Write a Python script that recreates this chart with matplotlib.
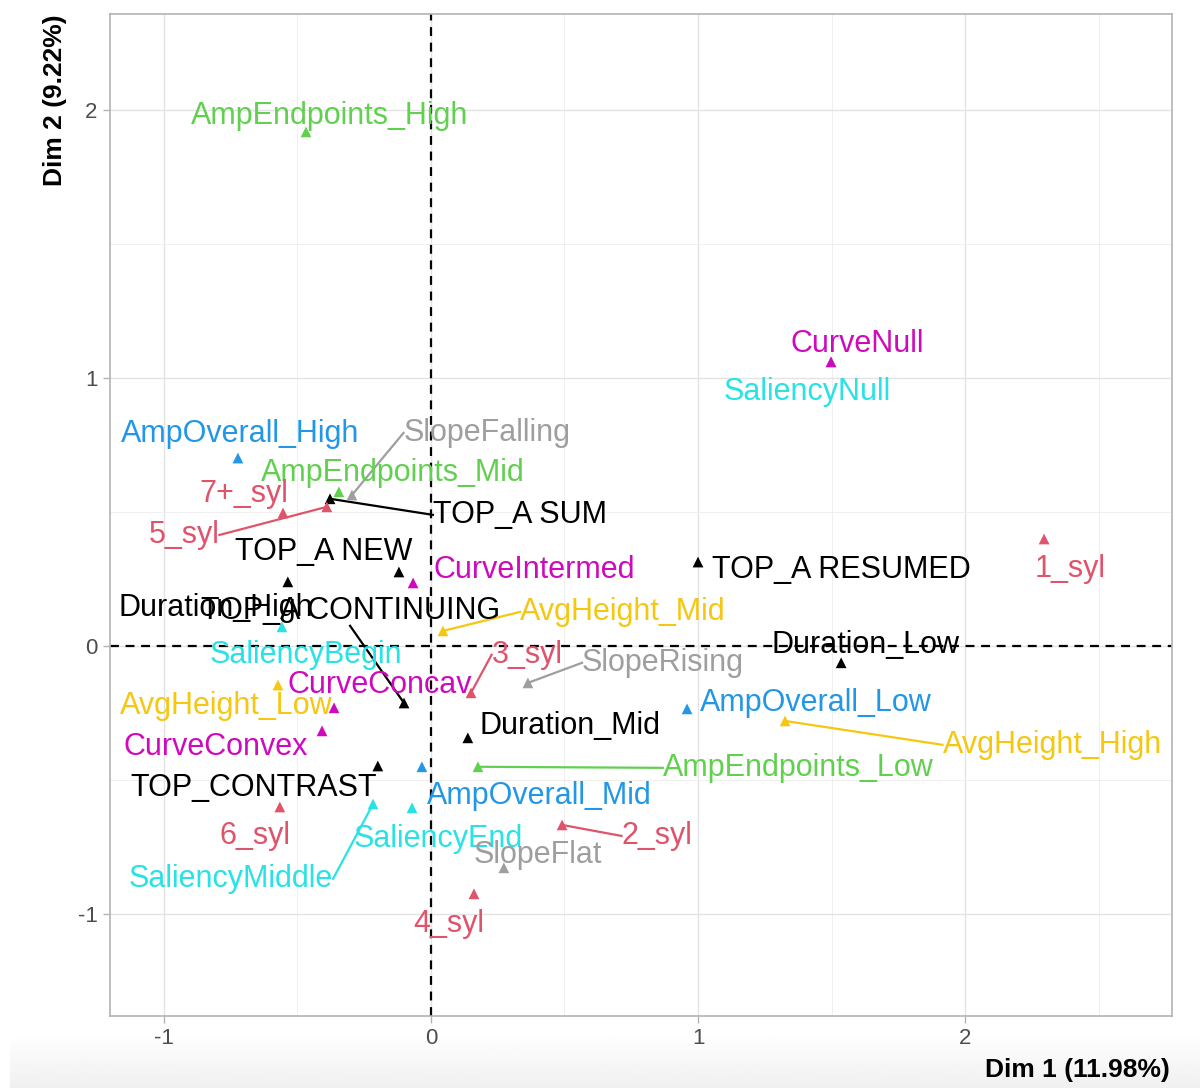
import numpy as np
import matplotlib
matplotlib.use("Agg")
import matplotlib.pyplot as plt

plt.rcParams["font.family"] = ["Liberation Sans", "DejaVu Sans"]

# MCA category coordinates (Dim 1, Dim 2)
labels = [
    "AmpEndpoints_High", "SaliencyNull", "CurveNull", "AmpOverall_High",
    "SlopeFalling", "AmpEndpoints_Mid", "TOP_A SUM", "5_syl", "7+_syl",
    "TOP_A NEW", "CurveIntermed", "Duration_High", "TOP_A CONTINUING",
    "SaliencyBegin", "AvgHeight_Mid", "3_syl", "SlopeRising",
    "TOP_A RESUMED", "1_syl", "Duration_Low", "AmpOverall_Low",
    "AvgHeight_High", "CurveConcav", "AvgHeight_Low", "CurveConvex",
    "Duration_Mid", "AmpEndpoints_Low", "AmpOverall_Mid", "TOP_CONTRAST",
    "SaliencyMiddle", "SaliencyEnd", "6_syl", "2_syl", "SlopeFlat", "4_syl",
]
dim1 = [
    -0.468, 1.498, 1.498, -0.723,
    -0.296, -0.345, -0.378, -0.390, -0.554,
    -0.120, -0.067, -0.536, -0.101,
    -0.558, 0.045, 0.150, 0.363,
    1.000, 2.296, 1.536, 0.959,
    1.326, -0.363, -0.573, -0.408,
    0.138, 0.176, -0.034, -0.199,
    -0.217, -0.071, -0.566, 0.491, 0.273, 0.161,
]
dim2 = [
    1.918, 1.060, 1.060, 0.701,
    0.563, 0.575, 0.549, 0.519, 0.496,
    0.276, 0.235, 0.239, -0.213,
    0.071, 0.056, -0.175, -0.138,
    0.313, 0.399, -0.063, -0.235,
    -0.280, -0.231, -0.146, -0.317,
    -0.343, -0.451, -0.451, -0.448,
    -0.590, -0.604, -0.601, -0.668, -0.828, -0.925,
]
groups = [
    "AmpEndpoints", "Saliency", "Curve", "AmpOverall",
    "Slope", "AmpEndpoints", "TOP", "Syl", "Syl",
    "TOP", "Curve", "TOP", "TOP",
    "Saliency", "AvgHeight", "Syl", "Slope",
    "TOP", "Syl", "TOP", "AmpOverall",
    "AvgHeight", "Curve", "AvgHeight", "Curve",
    "TOP", "AmpEndpoints", "AmpOverall", "TOP",
    "Saliency", "Saliency", "Syl", "Syl", "Slope", "Syl",
]

group_colors = {
    "TOP": "black", "Syl": "#DF536B", "AmpEndpoints": "#61D04F",
    "AmpOverall": "#2297E6", "Saliency": "#28E2E5", "Curve": "#CD0BBC",
    "AvgHeight": "#F5C710", "Slope": "#9E9E9E",
}

# repelled label positions (layout only)
label_pos = {
    "AmpEndpoints_High": (-0.378, 1.989), "CurveNull": (1.596, 1.138),
    "SaliencyNull": (1.408, 0.959), "AmpOverall_High": (-0.715, 0.802),
    "SlopeFalling": (0.210, 0.806), "AmpEndpoints_Mid": (-0.142, 0.657),
    "TOP_A SUM": (0.333, 0.500), "5_syl": (-0.925, 0.425),
    "7+_syl": (-0.700, 0.578), "TOP_A NEW": (-0.401, 0.362),
    "CurveIntermed": (0.386, 0.295), "Duration_High": (-0.805, 0.153),
    "TOP_A CONTINUING": (-0.303, 0.142), "SaliencyBegin": (-0.468, -0.022),
    "AvgHeight_Mid": (0.719, 0.138), "3_syl": (0.360, -0.022),
    "SlopeRising": (0.869, -0.052), "TOP_A RESUMED": (1.536, 0.295),
    "1_syl": (2.393, 0.299), "Duration_Low": (1.629, 0.015),
    "AmpOverall_Low": (1.442, -0.201), "AvgHeight_High": (2.326, -0.358),
    "CurveConcav": (-0.191, -0.134), "AvgHeight_Low": (-0.768, -0.213),
    "CurveConvex": (-0.805, -0.366), "Duration_Mid": (0.521, -0.287),
    "AmpEndpoints_Low": (1.375, -0.444), "AmpOverall_Mid": (0.404, -0.549),
    "TOP_CONTRAST": (-0.663, -0.519), "SaliencyMiddle": (-0.749, -0.858),
    "SaliencyEnd": (0.026, -0.709), "6_syl": (-0.659, -0.698),
    "2_syl": (0.846, -0.698), "SlopeFlat": (0.401, -0.769),
    "4_syl": (0.067, -1.026),
}
with_segment = {"SlopeFalling", "TOP_A SUM", "5_syl", "TOP_A CONTINUING",
                "AvgHeight_Mid", "3_syl", "SlopeRising", "AvgHeight_High",
                "AmpEndpoints_Low", "SaliencyMiddle", "2_syl"}

fig = plt.figure(figsize=(12, 10.88), dpi=100)

# faint screenshot shadow at the bottom
bg = fig.add_axes([10 / 1200, 0, 1 - 10 / 1200, 55 / 1088], zorder=-5)
grad = np.linspace(0.94, 1.0, 50).reshape(-1, 1)
bg.imshow(grad, aspect="auto", cmap="gray", vmin=0, vmax=1,
          origin="lower", extent=[0, 1, 0, 1])
bg.axis("off")

ax = fig.add_axes([110 / 1200, 1 - 1016 / 1088, 1062 / 1200, 1002 / 1088])
ax.set_xlim(-1.202, 2.775)
ax.set_ylim(-1.381, 2.358)

ax.set_xticks([-1, 0, 1, 2])
ax.set_yticks([-1, 0, 1, 2])
ax.set_xticks([-0.5, 0.5, 1.5, 2.5], minor=True)
ax.set_yticks([-0.5, 0.5, 1.5], minor=True)
ax.grid(True, which="major", color="#E3E3E3", lw=1.0)
ax.grid(True, which="minor", color="#EFEFEF", lw=0.7)
ax.set_axisbelow(True)
for sp in ax.spines.values():
    sp.set_color("#B3B3B3")
    sp.set_linewidth(1.2)
ax.tick_params(which="major", color="#B3B3B3", length=5, width=1,
               labelsize=16, labelcolor="#4D4D4D", pad=4)
ax.tick_params(which="minor", length=0)
ax.set_xticklabels(["-1", "0", "1", "2"])
ax.set_yticklabels(["-1", "0", "1", "2"])

ax.axhline(0, color="black", ls=(0, (4, 3)), lw=1.6, zorder=1)
ax.axvline(0, color="black", ls=(0, (4, 3)), lw=1.6, zorder=1)

texts = []
for lab, x, y, g in zip(labels, dim1, dim2, groups):
    c = group_colors[g]
    ax.scatter(x, y, marker="^", s=60, color=c, edgecolors="none", zorder=3)
    tx, ty = label_pos[lab]
    t = ax.text(tx, ty - 0.011, lab, color=c, fontsize=22, ha="center",
                va="center", zorder=4)
    texts.append((lab, x, y, c, t))

# ggrepel-like segments: from the point to the closest edge midpoint of the label
fig.canvas.draw()
renderer = fig.canvas.get_renderer()
to_data = ax.transData.inverted()
for lab, x, y, c, t in texts:
    if lab not in with_segment:
        continue
    bb = t.get_window_extent(renderer)
    px, py = ax.transData.transform((x, y))
    cx, cy = (bb.x0 + bb.x1) / 2, (bb.y0 + bb.y1) / 2
    cands = [(bb.x0, cy), (bb.x1, cy), (cx, bb.y0), (cx, bb.y1)]
    ex, ey = min(cands, key=lambda p: (p[0] - px) ** 2 + (p[1] - py) ** 2)
    sx, sy = to_data.transform((ex, ey))
    ax.plot([x, sx], [y, sy], color=c, lw=1.6, zorder=2)

fig.text(1170 / 1200, 1 - 1070 / 1088, "Dim 1 (11.98%)", ha="right",
         va="center", fontsize=19, fontweight="bold")
fig.text(55 / 1200, 1 - 14 / 1088, "Dim 2 (9.22%)", ha="center", va="top",
         rotation=90, fontsize=19, fontweight="bold")

fig.savefig("out.png", dpi=100)
